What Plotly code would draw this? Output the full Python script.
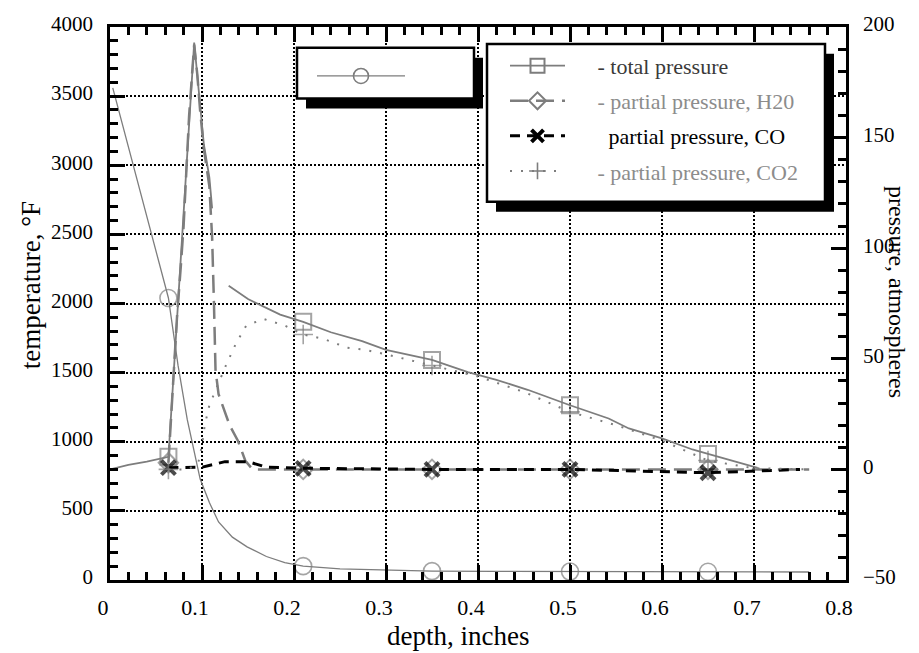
import plotly.graph_objects as go

# ---- data -------------------------------------------------------------
# depths (inches) at which the plotting symbols sit on every curve
mark_depth = [0.0635, 0.21, 0.35, 0.5, 0.65]

# temperature profile, deg F (left axis)
temp_depth = [0.003, 0.02, 0.04, 0.0635, 0.074, 0.084, 0.098, 0.108, 0.118, 0.133,
              0.149, 0.17, 0.19, 0.21, 0.25, 0.3, 0.35, 0.42, 0.5, 0.58, 0.65, 0.76]
temp_F = [3560, 3130, 2630, 2040, 1550, 1160, 730, 560, 420, 310,
          240, 170, 125, 100, 80, 70, 64, 62, 61, 60, 60, 58]

# total pressure, atm (right axis)
total_depth = [0, 0.02, 0.04, 0.0635, 0.069, 0.077, 0.083, 0.0915, 0.098, 0.102, 0.108,
               0.111, None, 0.129, 0.15, 0.185, 0.21, 0.24, 0.274, 0.3, 0.35, 0.389,
               0.42, 0.454, 0.5, 0.542, 0.564, 0.6, 0.633, 0.65, 0.68, 0.704]
total_atm = [0, 2, 3.5, 5.7, 42, 93, 136, 193, 163, 147, 132,
             118, None, 83, 77, 70, 66.7, 62, 58, 54, 49.5, 44,
             40.5, 36, 29, 23, 18.5, 14, 9, 7, 3.5, 0.7]

# partial pressure of water vapour, atm
h2o_depth = [0.0635, 0.066, 0.069, 0.073, 0.077, 0.08, 0.083, 0.086, 0.0915, 0.095,
             0.098, 0.102, 0.108, 0.111, 0.113, 0.1147, 0.118, 0.123, 0.13, 0.139,
             0.147, 0.155, 0.21, 0.28, 0.35, 0.43, 0.5, 0.58, 0.65, 0.76]
h2o_atm = [3, 22, 41, 70, 92, 110, 135, 160, 192, 178,
           162, 145, 128, 105, 75, 45, 34, 28, 20, 13,
           4, 0, 0, 0, 0, 0, 0, 0, 0, 0]

# partial pressure of CO, atm
co_depth = [0.0635, 0.1, 0.115, 0.125, 0.15, 0.17, 0.21, 0.35, 0.5, 0.65, 0.75]
co_atm = [0.8, 1, 2.5, 3.5, 3.5, 1, 0.5, 0, 0, -1.5, 0]

# partial pressure of CO2, atm
co2_depth = [0.0635, 0.085, 0.096, 0.1, 0.103, 0.108, 0.117, 0.126, 0.137, 0.148,
             0.167, 0.19, 0.21, 0.232, 0.258, 0.278, 0.3, 0.35, 0.4, 0.45,
             0.5, 0.55, 0.6, 0.65, 0.7, 0.76]
co2_atm = [0, 0, 3, 11, 20, 29, 38, 47, 57, 65,
           68, 65, 61, 59, 55, 54, 52, 47, 42, 35,
           26, 20, 13, 4, 0.5, 0]

legend_names = ["- total pressure",
                "- partial pressure, H20",
                "partial pressure, CO",
                "- partial pressure, CO2"]

# ---- styling ----------------------------------------------------------
FONT = "Liberation Serif"
GREY = "#7d7d7d"
LIGHT = "#8c8c8c"
W, H = 919, 653
L, R, T, B = 110, 73, 23, 73
PW, PH = W - L - R, H - T - B
NB = "\u00a0"


def px(xp):
    return (xp - L) / PW


def py(yp):
    return (H - B - yp) / PH


def sizes(depths, s):
    return [s if d in mark_depth else 0 for d in depths]


def label(text, color=None, pad=5):
    body = text if color is None else f'<span style="color:{color}">{text}</span>'
    return NB * pad + body


series = [
    dict(x=temp_depth, y=temp_F, yaxis="y",
         line=dict(color=GREY, width=1.3),
         sym="circle-open", ms=17, mline=dict(color=GREY, width=1.6),
         name="", legend="legend2"),
    dict(x=total_depth, y=total_atm, yaxis="y2",
         line=dict(color=GREY, width=1.8),
         sym="square-open", ms=16, mline=dict(color=GREY, width=2),
         name=label(legend_names[0], "#3a3a3a"), legend="legend"),
    dict(x=h2o_depth, y=h2o_atm, yaxis="y2",
         line=dict(color=GREY, width=2.5, dash="18px,8px"),
         sym="diamond-open", ms=15, mline=dict(color=GREY, width=2),
         name=label(legend_names[1], LIGHT), legend="legend"),
    dict(x=co_depth, y=co_atm, yaxis="y2",
         line=dict(color="black", width=3, dash="10px,7px"),
         sym="x-thin-open", ms=14, mline=dict(color="black", width=4),
         name=label(legend_names[2], None, pad=7), legend="legend"),
    dict(x=co2_depth, y=co2_atm, yaxis="y2",
         line=dict(color=GREY, width=2, dash="2px,9px"),
         sym="cross-thin-open", ms=14, mline=dict(color=GREY, width=1.6),
         name=label(legend_names[3], LIGHT), legend="legend"),
]

fig = go.Figure()

for i, s in enumerate(series):
    # the curve itself, with symbols only at the marked depths
    fig.add_trace(go.Scatter(
        x=s["x"], y=s["y"], yaxis=s["yaxis"], mode="lines+markers",
        line=s["line"],
        marker=dict(symbol=s["sym"], size=sizes(s["x"], s["ms"]), line=s["mline"],
                    color=s["mline"]["color"]),
        showlegend=False, hoverinfo="skip", connectgaps=False,
    ))
    # legend entry
    fig.add_trace(go.Scatter(
        x=[None], y=[None], yaxis=s["yaxis"], mode="lines+markers",
        line=s["line"],
        marker=dict(symbol=s["sym"], size=s["ms"] - 2, line=s["mline"],
                    color=s["mline"]["color"]),
        name=s["name"], legend=s["legend"], legendgroup=str(i), showlegend=True,
    ))

# legend frames with drop shadows
shapes = []
for (x0, y0, x1, y1) in [(297, 44, 474, 95), (487, 40, 825, 199)]:
    shapes.append(dict(type="rect", xref="paper", yref="paper",
                       x0=px(x0 + 9), x1=px(x1 + 9), y0=py(y1 + 10), y1=py(y0 + 10),
                       fillcolor="black", line=dict(width=0), layer="above"))
    shapes.append(dict(type="rect", xref="paper", yref="paper",
                       x0=px(x0), x1=px(x1), y0=py(y1), y1=py(y0),
                       fillcolor="white", line=dict(color="black", width=2.5),
                       layer="above"))

axis_common = dict(
    showline=True, linecolor="black", linewidth=2.5,
    ticks="inside", ticklen=15, tickwidth=2.5, tickcolor="black",
    zeroline=False,
)
minor_common = dict(ticks="inside", ticklen=8, tickwidth=2.5, tickcolor="black",
                    showgrid=False)

fig.update_layout(
    width=W, height=H,
    margin=dict(l=L, r=R, t=T, b=B),
    paper_bgcolor="white", plot_bgcolor="white",
    font=dict(family=FONT, size=21, color="black"),
    xaxis=dict(
        range=[0, 0.8], dtick=0.1, tick0=0, mirror="ticks",
        showgrid=True, gridcolor="black", gridwidth=2, griddash="2px,2px",
        minor=dict(dtick=0.02, **minor_common),
        tickfont=dict(family=FONT, size=22, color="black"),
        ticklabelstandoff=6, ticklabelshift=-7,
        **axis_common,
    ),
    yaxis=dict(
        range=[0, 4000], dtick=500, tick0=0,
        showgrid=True, gridcolor="black", gridwidth=2, griddash="2px,2px",
        minor=dict(dtick=100, **minor_common),
        tickfont=dict(family=FONT, size=21, color="black"),
        ticklabelstandoff=10, ticklabelshift=-3,
        **axis_common,
    ),
    yaxis2=dict(
        range=[-50, 200], dtick=50, tick0=0, overlaying="y", side="right",
        showgrid=False,
        minor=dict(dtick=10, **minor_common),
        tickfont=dict(family=FONT, size=21, color="black"),
        ticklabelstandoff=10, ticklabelshift=-3,
        **axis_common,
    ),
    legend=dict(x=px(505), y=py(41), xanchor="left", yanchor="top",
                bgcolor="rgba(0,0,0,0)", borderwidth=0, itemwidth=55,
                tracegroupgap=3.5, font=dict(family=FONT, size=22, color="black"),
                itemclick=False, itemdoubleclick=False),
    legend2=dict(x=px(312), y=py(52), xanchor="left", yanchor="top",
                 bgcolor="rgba(0,0,0,0)", borderwidth=0, itemwidth=88,
                 font=dict(family=FONT, size=21, color="black"),
                 itemclick=False, itemdoubleclick=False),
    shapes=shapes,
    annotations=[
        dict(text="depth, inches", xref="paper", yref="paper",
             x=px(458), y=py(636), xanchor="center", yanchor="middle",
             showarrow=False, font=dict(family=FONT, size=27)),
        dict(text="temperature, °F", textangle=-90, xref="paper", yref="paper",
             x=px(31), y=py(283), xanchor="center", yanchor="middle",
             showarrow=False, font=dict(family=FONT, size=27)),
        dict(text="pressure, atmospheres", textangle=90, xref="paper", yref="paper",
             x=px(897), y=py(290), xanchor="center", yanchor="middle",
             showarrow=False, font=dict(family=FONT, size=24)),
    ],
    showlegend=True,
)

fig.write_html("out.html")
